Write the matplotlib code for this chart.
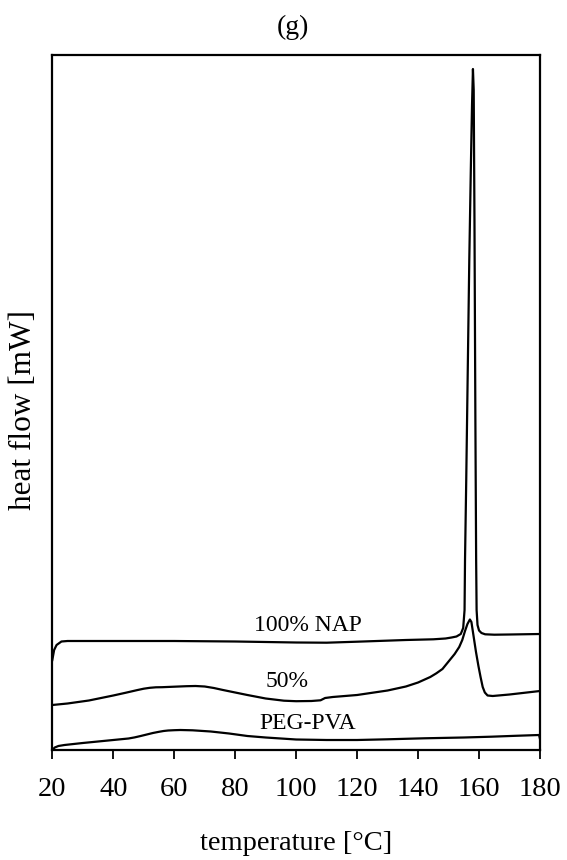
import matplotlib
matplotlib.use("Agg")
import matplotlib.pyplot as plt

# ---- data ----
t_nap = [20.0, 20.6, 21.4, 23.0, 25, 40, 60, 80, 100, 110, 120, 136, 145, 149, 151,
         152.6, 154.0, 154.8, 155.25, 155.4, 155.8, 156.3, 156.8, 157.3, 157.7,
         158.0, 158.25, 158.5, 158.8, 159.05, 159.2, 159.5, 160.0, 160.8, 162.0,
         165, 170, 180]
hf_nap = [9.0, 10.0, 10.5, 10.85, 10.9, 10.9, 10.9, 10.85, 10.75, 10.73, 10.83, 11.0, 11.07, 11.15, 11.25,
          11.35, 11.6, 12.2, 14.0, 19.0, 27.0, 38.0, 49.0, 58.0, 64.5,
          68.1, 66.0, 53.0, 33.0, 19.0, 14.0, 12.5, 11.95, 11.7, 11.57,
          11.53, 11.55, 11.6]

t_50 = [20, 25, 32, 36, 40, 44, 48, 50, 52, 54, 56, 60, 64, 67, 70, 73, 76, 80, 84, 90, 96, 100,
        105, 108, 109.5, 112, 120,
        130, 136, 140, 144, 146, 148, 150.4, 152, 153.5, 154.5, 155.4, 156.2, 157, 157.5, 158.2,
        159, 159.8, 160.5, 161.2, 161.9, 162.8, 164.5, 170, 180]
hf_50 = [4.5, 4.65, 4.95, 5.2, 5.45, 5.72, 6.0, 6.13, 6.22, 6.27, 6.28, 6.33, 6.38, 6.4, 6.35, 6.2, 6.0, 5.75, 5.5,
         5.15, 4.93, 4.88,
         4.9, 4.97, 5.2, 5.3, 5.5,
         5.95, 6.35, 6.75, 7.3, 7.67, 8.1, 9.0, 9.6, 10.3, 11.0, 11.9, 12.6, 13.05, 12.8, 11.4,
         9.8, 8.4, 7.3, 6.3, 5.75, 5.45, 5.4, 5.55, 5.9]

t_peg = [20, 20.8, 22, 24, 30, 40, 45, 47, 49, 51, 53, 55, 56.5, 58, 60, 62, 66, 72, 78, 84, 90, 95, 100, 110,
         120, 130, 142, 155, 164, 172, 179.7, 180]
hf_peg = [0, 0.25, 0.4, 0.5, 0.7, 1.0, 1.15, 1.26, 1.4, 1.55, 1.7, 1.82, 1.9, 1.95, 1.98, 2.0, 1.97, 1.85, 1.65,
          1.4, 1.25, 1.15, 1.05, 1.0,
          1.0, 1.07, 1.17, 1.25, 1.33, 1.42, 1.5, 1.1]

series_labels = ["100% NAP", "50%", "PEG-PVA"]
label_x = [103.8, 97.0, 103.8]
label_y = [11.9, 6.3, 2.1]
xticks = [20, 40, 60, 80, 100, 120, 140, 160, 180]

plt.rcParams['font.family'] = ['Liberation Serif', 'DejaVu Serif']

fig = plt.figure(figsize=(5.67, 8.6), dpi=100)
ax = fig.add_axes([52.3 / 567, 1 - 750 / 860, (540 - 52.3) / 567, (750 - 55) / 860])

for t, h in [(t_nap, hf_nap), (t_50, hf_50), (t_peg, hf_peg)]:
    ax.plot(t, h, color='black', lw=1.6, solid_joinstyle='round')

for lab, lx, ly in zip(series_labels, label_x, label_y):
    ax.text(lx, ly, lab, ha='center', va='baseline', fontsize=17)

ax.set_xlim(20, 180)
ax.set_ylim(0, 69.5)
ax.set_xticks(xticks)
ax.set_xticklabels([str(v) for v in xticks])
ax.set_yticks([])
ax.tick_params(axis='x', direction='out', length=6.5, width=1.3, labelsize=20.5, pad=13)
for s in ax.spines.values():
    s.set_linewidth(1.6)

fig.text(0.516, 1 - 34 / 860, '(g)', ha='center', va='baseline', fontsize=20)
fig.text(0.522, 1 - 850 / 860, 'temperature [°C]', ha='center', va='baseline', fontsize=20.5)
fig.text(24 / 567, 1 - 410 / 860, 'heat flow [mW]', ha='center', va='center', rotation=90, fontsize=22.5)

fig.savefig('out.png', dpi=100)
